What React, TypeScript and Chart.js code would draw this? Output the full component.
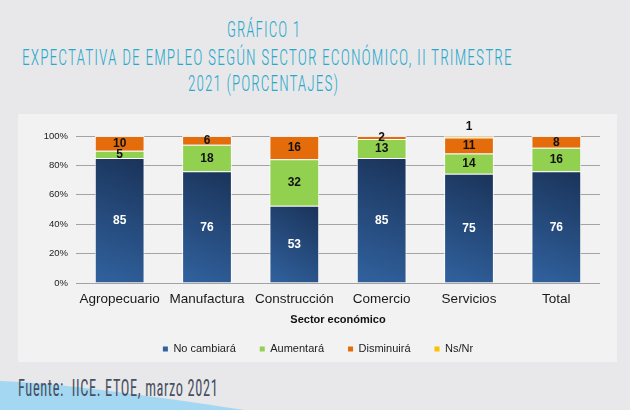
import React, { useEffect, useLayoutEffect, useRef, useState } from 'react';
import { Chart, registerables } from 'chart.js';

Chart.register(...registerables);

const TITLE_LINES = [
  'GRÁFICO 1',
  'EXPECTATIVA DE EMPLEO SEGÚN SECTOR ECONÓMICO, II TRIMESTRE',
  '2021 (PORCENTAJES)',
];
const SOURCE = 'Fuente:  IICE. ETOE, marzo 2021';
const X_TITLE = 'Sector económico';

const CATEGORIES = ['Agropecuario', 'Manufactura', 'Construcción', 'Comercio', 'Servicios', 'Total'];
const SERIES_NAMES = ['No cambiará', 'Aumentará', 'Disminuirá', 'Ns/Nr'];
const NO_CAMBIARA = [85, 76, 53, 85, 75, 76];
const AUMENTARA = [5, 18, 32, 13, 14, 16];
const DISMINUIRA = [10, 6, 16, 2, 11, 8];
const NS_NR = [0, 0, 0, 0, 1, 0];
const Y_TICKS = [0, 20, 40, 60, 80, 100];

const RAW = [NO_CAMBIARA, AUMENTARA, DISMINUIRA, NS_NR];
const COLORS = ['#24487a', '#92d050', '#e46c0a', '#ffc000'];

const FONT = '"Liberation Sans", Arial, sans-serif';
const TITLE_FONT = '"Roboto Condensed", "Liberation Sans Narrow", "DejaVu Sans Condensed", Roboto, sans-serif';
const BAR_PCT = 0.57;

const totals = CATEGORIES.map((_, i) => RAW.reduce((s, arr) => s + arr[i], 0));
const shares = RAW.map((arr) => arr.map((v, i) => (v / totals[i]) * 100));

function blueFill(c: any) {
  const chart = c.chart;
  const i = c.dataIndex;
  const area = chart.chartArea;
  if (!area || typeof i !== 'number') return COLORS[0];
  const xs = chart.scales.x;
  const ys = chart.scales.y;
  if (!xs || !ys) return COLORS[0];
  const cx = xs.getPixelForValue(i);
  const half = (xs.width / CATEGORIES.length) * BAR_PCT / 2;
  const top = ys.getPixelForValue(shares[0][i]);
  const bottom = ys.getPixelForValue(0);
  if (![cx, half, top, bottom].every(Number.isFinite)) return COLORS[0];
  const g = chart.ctx.createLinearGradient(cx - half, bottom, cx + half, top);
  g.addColorStop(0, '#31629f');
  g.addColorStop(1, '#1a3359');
  return g;
}

const labelPlugin = {
  id: 'segLabels',
  afterDatasetsDraw(chart: any) {
    const ctx = chart.ctx;
    ctx.save();
    ctx.font = `bold 12px ${FONT}`;
    ctx.textAlign = 'center';
    ctx.textBaseline = 'middle';
    chart.data.datasets.forEach((_: any, di: number) => {
      const meta = chart.getDatasetMeta(di);
      meta.data.forEach((el: any, i: number) => {
        const v = RAW[di][i];
        if (!v) return;
        const { x, y, base } = el.getProps(['x', 'y', 'base'], true);
        const ly = di === 3 ? y - 10 : (y + base) / 2;
        ctx.fillStyle = di === 0 ? '#ffffff' : '#111111';
        ctx.fillText(String(v), x, ly + 0.5);
      });
    });
    ctx.restore();
  },
};

function FitText(props: {
  text: string; left: number; width: number; baseline: number; size: number;
  color: string; weight: number; family: string; spacing: number;
}) {
  const { text, left, width, baseline, size, color, weight, family, spacing } = props;
  const ref = useRef<HTMLSpanElement>(null);
  const [sx, setSx] = useState(1);
  useLayoutEffect(() => {
    const measure = () => {
      const el = ref.current;
      if (!el) return;
      const w = el.offsetWidth - spacing;
      if (w > 0) setSx(width / w);
    };
    measure();
    const f = (document as any).fonts;
    if (f && f.ready) f.ready.then(measure);
  }, [text, width]);
  return (
    <span
      ref={ref}
      style={{
        position: 'absolute',
        left,
        top: baseline - 0.845 * size,
        fontSize: size,
        lineHeight: `${size}px`,
        fontFamily: family,
        fontWeight: weight,
        letterSpacing: spacing,
        color,
        whiteSpace: 'pre',
        transform: `scaleX(${sx})`,
        transformOrigin: 'left top',
      }}
    >
      {text}
    </span>
  );
}

export default function App() {
  const canvasRef = useRef<HTMLCanvasElement>(null);

  useEffect(() => {
    const canvas = canvasRef.current;
    if (!canvas) return;
    const datasets = SERIES_NAMES.map((name, di) => ({
      label: name,
      data: shares[di],
      backgroundColor: di === 0 ? blueFill : COLORS[di],
      borderColor: 'rgba(255,255,255,0.8)',
      borderWidth: 1,
      barPercentage: BAR_PCT,
      categoryPercentage: 1,
    }));
    const chart = new Chart(canvas, {
      type: 'bar',
      data: { labels: CATEGORIES, datasets: datasets as any },
      options: {
        responsive: false,
        animation: false,
        devicePixelRatio: 1,
        events: [],
        layout: { padding: { left: 18, right: 17, top: 22, bottom: 5.5 } },
        scales: {
          x: {
            stacked: true,
            grid: { display: false, drawTicks: false },
            border: { display: false },
            ticks: { padding: 8, color: '#1a1a1a', font: { family: FONT, size: 13.5 } },
            title: {
              display: true,
              text: X_TITLE,
              color: '#111111',
              font: { family: FONT, size: 11, weight: 'bold' },
              padding: { top: 0, bottom: -7 },
            },
            afterFit: (s: any) => { s.height = 36.5; },
          },
          y: {
            stacked: true,
            min: 0,
            max: 100,
            border: { display: false },
            grid: { color: '#a3a3a3', drawTicks: false, lineWidth: 1 },
            ticks: {
              padding: 8,
              color: '#222222',
              font: { family: FONT, size: 9.5 },
              callback: (v: any) => `${v}%`,
            },
            afterBuildTicks: (s: any) => { s.ticks = Y_TICKS.map((v) => ({ value: v })); },
            afterFit: (s: any) => { s.width = 40; },
          },
        } as any,
        plugins: {
          legend: {
            position: 'bottom',
            labels: {
              boxWidth: 5,
              boxHeight: 5,
              padding: 24,
              color: '#222222',
              font: { family: FONT, size: 11 },
              generateLabels: (c: any) =>
                (Chart.defaults.plugins.legend.labels.generateLabels as any)(c).map((l: any) => ({
                  ...l,
                  lineWidth: 0,
                  strokeStyle: 'rgba(0,0,0,0)',
                })),
            },
          },
          tooltip: { enabled: false },
        },
      },
      plugins: [labelPlugin],
    });
    return () => chart.destroy();
  }, []);

  return (
    <div
      style={{
        position: 'fixed',
        left: 0,
        top: 0,
        width: 630,
        height: 410,
        overflow: 'hidden',
        background: '#e8e8ea',
      }}
    >
      <svg width={630} height={410} style={{ position: 'absolute', left: 0, top: 0 }}>
        <path d="M0,381 C60,383 150,396 245,410 L0,410 Z" fill="#a4d8f2" />
      </svg>
      <FitText text={TITLE_LINES[0]} left={227} width={73} baseline={38} size={22} color="#2aa8cb" weight={300} spacing={1.5} family={TITLE_FONT} />
      <FitText text={TITLE_LINES[1]} left={22} width={490} baseline={66} size={22} color="#2aa8cb" weight={300} spacing={1.5} family={TITLE_FONT} />
      <FitText text={TITLE_LINES[2]} left={188} width={150} baseline={92} size={22} color="#2aa8cb" weight={300} spacing={1.5} family={TITLE_FONT} />
      <div
        style={{
          position: 'absolute',
          left: 18,
          top: 114,
          width: 599,
          height: 248,
          background: '#f2f2f2',
        }}
      />
      <canvas
        ref={canvasRef}
        width={599}
        height={256}
        style={{ position: 'absolute', left: 18, top: 114, width: 599, height: 256 }}
      />
      <FitText text={SOURCE} left={18} width={200} baseline={396.5} size={23} color="#474f60" weight={400} spacing={1} family={TITLE_FONT} />
    </div>
  );
}
